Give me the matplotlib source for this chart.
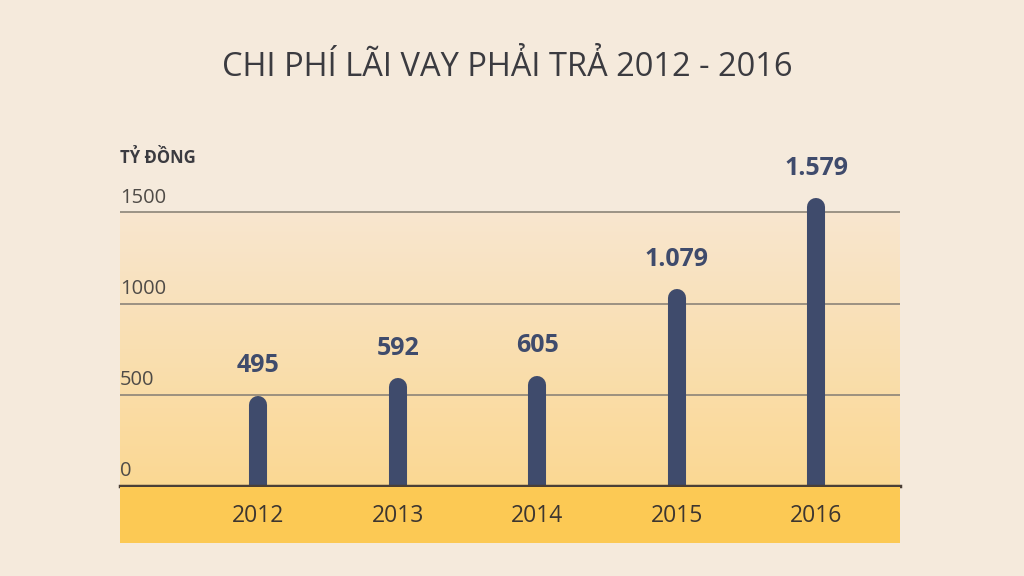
import numpy as np
import matplotlib.pyplot as plt
from matplotlib.colors import LinearSegmentedColormap

years = ["2012", "2013", "2014", "2015", "2016"]
values = [495, 592, 605, 1079, 1579]
value_labels = ["495", "592", "605", "1.079", "1.579"]
y_ticks = [0, 500, 1000, 1500]

BG = "#f5eadc"
BAR = "#3f4b6c"
BAND = "#fcc954"
TEXT = "#3b3b40"

plt.rcParams["font.family"] = ["Open Sans", "DejaVu Sans"]

fig = plt.figure(figsize=(10.24, 5.76), dpi=100, facecolor=BG)
W, H = 1024, 576

# plot area: x 120..900 px, data 0 at y=486 px, 1700 at about y=176 px
x0, x1 = 120, 900
y_base, y_top = 486, 176
ax = fig.add_axes([x0 / W, 1 - y_base / H, (x1 - x0) / W, (y_base - y_top) / H])
ax.set_facecolor("none")
ax.set_xlim(-0.99, 4.6)
ax.set_ylim(0, 1700)

# gradient fill below the top gridline
cmap = LinearSegmentedColormap.from_list("bg", ["#fbd893", "#f8e6cf"])
grad = np.linspace(0, 1, 256).reshape(-1, 1)
ax.imshow(grad, extent=[-0.99, 4.6, 0, 1500], origin="lower", aspect="auto",
          cmap=cmap, zorder=0)

for t in y_ticks[1:]:
    ax.axhline(t, color="#8c8478", lw=1.2, zorder=1)
ax.axhline(0, color="#4a3f36", lw=2.5, zorder=4, clip_on=False)

# rounded bars
px_per_unit = (y_base - y_top) / 1700
radius = 9 / px_per_unit
xs = np.arange(len(years))
for x, v, lab in zip(xs, values, value_labels):
    ax.vlines(x, -100, v - radius, color=BAR, lw=13, capstyle="round", zorder=3)
    ax.text(x, v + 95, lab, ha="center", va="bottom", fontsize=18,
            fontweight="bold", color=BAR, zorder=5)

for t in y_ticks:
    ax.text(-0.99, t + 25, str(t), ha="left", va="bottom", fontsize=14.5,
            color="#4f4b47", zorder=5)

ax.set_xticks([])
ax.set_yticks([])
for s in ax.spines.values():
    s.set_visible(False)

# bottom band with year labels
band = fig.add_axes([x0 / W, 1 - 543 / H, (x1 - x0) / W, (543 - 487) / H])
band.set_xlim(-0.99, 4.6)
band.set_ylim(0, 1)
band.set_facecolor(BAND)
for s in band.spines.values():
    s.set_visible(False)
band.set_xticks([])
band.set_yticks([])
for x, yr in zip(xs, years):
    band.text(x, 0.48, yr, ha="center", va="center", fontsize=16.5, color="#3d3630")

fig.text(x0 / W, 1 - 158 / H, "TỶ ĐỒNG", ha="left", va="center", fontsize=12,
         fontweight="bold", color=TEXT)
fig.text(507 / W, 1 - 68 / H, "CHI PHÍ LÃI VAY PHẢI TRẢ 2012 - 2016", ha="center",
         va="center", fontsize=23.5, color=TEXT)

fig.savefig("out.png", dpi=100, facecolor=BG)
